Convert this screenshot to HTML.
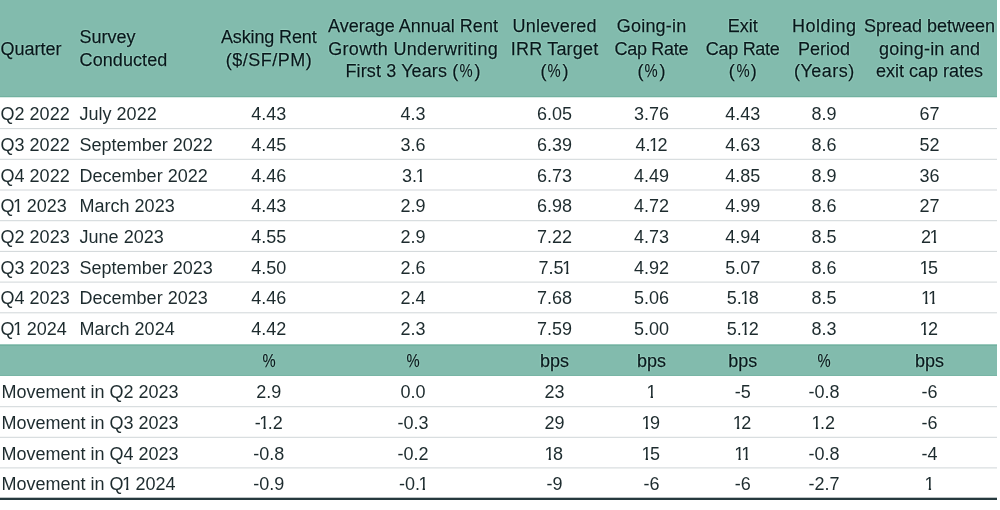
<!DOCTYPE html>
<html><head><meta charset="utf-8"><title>Survey table</title>
<style>
html,body{margin:0;padding:0;background:#fff;}
body{width:1000px;height:510px;position:relative;overflow:hidden;font-family:"Liberation Sans",sans-serif;font-size:18px;color:#1d2b2e;}
.b{position:absolute;left:0;width:997px;}
.t{position:absolute;white-space:nowrap;line-height:20px;}
.h{color:#07171b;-webkit-text-stroke:0.25px #07171b;text-shadow:0 0 1.5px rgba(190,240,222,1),0 0 1.5px rgba(190,240,222,0.8);}
.o{display:inline-block;margin:0 -1.5px;clip-path:polygon(0 0,100% 0,100% 13.6px,6.5px 13.6px,6.5px 100%,4.1px 100%,4.1px 13.6px,0 13.6px);}
.p{display:inline-block;transform:scaleX(0.82);}
#w{position:absolute;left:0;top:0;width:1000px;height:510px;will-change:transform;}
</style></head><body>
<div class="b" style="top:0px;height:96px;background:#82bbad;"></div>
<div class="b" style="top:96px;height:1px;background:#72b1a0;"></div>
<div class="b" style="top:97px;height:1px;background:#daebe6;"></div>
<div class="b" style="top:344px;height:1px;background:#9bc9bd;"></div>
<div class="b" style="top:345px;height:1px;background:#72b1a0;"></div>
<div class="b" style="top:346px;height:29px;background:#82bbad;"></div>
<div class="b" style="top:375px;height:1px;background:#78b5a5;"></div>
<div class="b" style="top:128px;height:1px;background:#d5dadc;"></div>
<div class="b" style="top:129px;height:1px;background:#fafbfb;"></div>
<div class="b" style="top:158px;height:1px;background:#f6f7f7;"></div>
<div class="b" style="top:159px;height:1px;background:#d9dee0;"></div>
<div class="b" style="top:189px;height:1px;background:#e8eaec;"></div>
<div class="b" style="top:190px;height:1px;background:#e8eaec;"></div>
<div class="b" style="top:220px;height:1px;background:#d9dee0;"></div>
<div class="b" style="top:221px;height:1px;background:#f6f7f7;"></div>
<div class="b" style="top:250px;height:1px;background:#fafbfb;"></div>
<div class="b" style="top:251px;height:1px;background:#d5dadc;"></div>
<div class="b" style="top:281px;height:1px;background:#ecefef;"></div>
<div class="b" style="top:282px;height:1px;background:#e3e6e8;"></div>
<div class="b" style="top:312px;height:1px;background:#dee2e4;"></div>
<div class="b" style="top:313px;height:1px;background:#f1f3f3;"></div>
<div class="b" style="top:406px;height:1px;background:#d9dee0;"></div>
<div class="b" style="top:407px;height:1px;background:#f6f7f7;"></div>
<div class="b" style="top:436px;height:1px;background:#f6f7f7;"></div>
<div class="b" style="top:437px;height:1px;background:#d9dee0;"></div>
<div class="b" style="top:467px;height:1px;background:#e3e6e8;"></div>
<div class="b" style="top:468px;height:1px;background:#ecefef;"></div>
<div class="b" style="top:497px;height:1px;background:#bec4c5;"></div>
<div class="b" style="top:498px;height:2px;background:#26393e;"></div>
<div id="w">
<div class="t h" style="left:0.60px;top:38.76px;">Quarter</div>
<div class="t h" style="left:79.60px;top:27.46px;">Survey</div>
<div class="t h" style="left:79.60px;top:50.06px;"><span style="letter-spacing:0.08px;margin-left:0px">Conducted</span></div>
<div class="t h" style="left:168.80px;width:200px;text-align:center;top:27.46px;"><span style="letter-spacing:-0.13px;margin-left:-0.13px">Asking Rent</span></div>
<div class="t h" style="left:168.80px;width:200px;text-align:center;top:50.06px;"><span style="letter-spacing:0.5px;margin-left:0.5px">($/SF/PM)</span></div>
<div class="t h" style="left:313.00px;width:200px;text-align:center;top:16.16px;">Average Annual Rent</div>
<div class="t h" style="left:313.00px;width:200px;text-align:center;top:38.76px;"><span style="letter-spacing:0.3px;margin-left:0.3px">Growth Underwriting</span></div>
<div class="t h" style="left:313.00px;width:200px;text-align:center;top:61.36px;"><span style="letter-spacing:0.12px;margin-left:0.12px">First 3 Years (<span class="p">%</span>)</span></div>
<div class="t h" style="left:454.50px;width:200px;text-align:center;top:16.16px;"><span style="letter-spacing:0.22px;margin-left:0.22px">Unlevered</span></div>
<div class="t h" style="left:454.50px;width:200px;text-align:center;top:38.76px;"><span style="letter-spacing:0.19px;margin-left:0.19px">IRR Target</span></div>
<div class="t h" style="left:454.50px;width:200px;text-align:center;top:61.36px;">(<span class="p">%</span>)</div>
<div class="t h" style="left:551.50px;width:200px;text-align:center;top:16.16px;"><span style="letter-spacing:0.2px;margin-left:0.2px">Going-in</span></div>
<div class="t h" style="left:551.50px;width:200px;text-align:center;top:38.76px;"><span style="letter-spacing:-0.3px;margin-left:-0.3px">Cap Rate</span></div>
<div class="t h" style="left:551.50px;width:200px;text-align:center;top:61.36px;">(<span class="p">%</span>)</div>
<div class="t h" style="left:642.80px;width:200px;text-align:center;top:16.16px;">Exit</div>
<div class="t h" style="left:642.80px;width:200px;text-align:center;top:38.76px;"><span style="letter-spacing:-0.3px;margin-left:-0.3px">Cap Rate</span></div>
<div class="t h" style="left:642.80px;width:200px;text-align:center;top:61.36px;">(<span class="p">%</span>)</div>
<div class="t h" style="left:724.10px;width:200px;text-align:center;top:16.16px;"><span style="letter-spacing:0.5px;margin-left:0.5px">Holding</span></div>
<div class="t h" style="left:724.10px;width:200px;text-align:center;top:38.76px;">Period</div>
<div class="t h" style="left:724.10px;width:200px;text-align:center;top:61.36px;"><span style="letter-spacing:0.5px;margin-left:0.5px">(Years)</span></div>
<div class="t h" style="left:829.60px;width:200px;text-align:center;top:16.16px;">Spread between</div>
<div class="t h" style="left:829.60px;width:200px;text-align:center;top:38.76px;"><span style="letter-spacing:0.18px;margin-left:0.18px">going-in and</span></div>
<div class="t h" style="left:829.60px;width:200px;text-align:center;top:61.36px;">exit cap rates</div>
<div class="t" style="left:0.60px;top:104.06px;">Q2 2022</div>
<div class="t" style="left:79.60px;top:104.06px;">July 2022</div>
<div class="t" style="left:168.80px;width:200px;text-align:center;top:104.06px;">4.43</div>
<div class="t" style="left:313.00px;width:200px;text-align:center;top:104.06px;">4.3</div>
<div class="t" style="left:454.50px;width:200px;text-align:center;top:104.06px;">6.05</div>
<div class="t" style="left:551.50px;width:200px;text-align:center;top:104.06px;">3.76</div>
<div class="t" style="left:642.80px;width:200px;text-align:center;top:104.06px;">4.43</div>
<div class="t" style="left:724.10px;width:200px;text-align:center;top:104.06px;">8.9</div>
<div class="t" style="left:829.60px;width:200px;text-align:center;top:104.06px;">67</div>
<div class="t" style="left:0.60px;top:134.79px;">Q3 2022</div>
<div class="t" style="left:79.60px;top:134.79px;">September 2022</div>
<div class="t" style="left:168.80px;width:200px;text-align:center;top:134.79px;">4.45</div>
<div class="t" style="left:313.00px;width:200px;text-align:center;top:134.79px;">3.6</div>
<div class="t" style="left:454.50px;width:200px;text-align:center;top:134.79px;">6.39</div>
<div class="t" style="left:551.50px;width:200px;text-align:center;top:134.79px;">4.<span class="o">1</span>2</div>
<div class="t" style="left:642.80px;width:200px;text-align:center;top:134.79px;">4.63</div>
<div class="t" style="left:724.10px;width:200px;text-align:center;top:134.79px;">8.6</div>
<div class="t" style="left:829.60px;width:200px;text-align:center;top:134.79px;">52</div>
<div class="t" style="left:0.60px;top:165.52px;">Q4 2022</div>
<div class="t" style="left:79.60px;top:165.52px;">December 2022</div>
<div class="t" style="left:168.80px;width:200px;text-align:center;top:165.52px;">4.46</div>
<div class="t" style="left:313.00px;width:200px;text-align:center;top:165.52px;">3.<span class="o">1</span></div>
<div class="t" style="left:454.50px;width:200px;text-align:center;top:165.52px;">6.73</div>
<div class="t" style="left:551.50px;width:200px;text-align:center;top:165.52px;">4.49</div>
<div class="t" style="left:642.80px;width:200px;text-align:center;top:165.52px;">4.85</div>
<div class="t" style="left:724.10px;width:200px;text-align:center;top:165.52px;">8.9</div>
<div class="t" style="left:829.60px;width:200px;text-align:center;top:165.52px;">36</div>
<div class="t" style="left:0.60px;top:196.25px;">Q<span class="o">1</span> 2023</div>
<div class="t" style="left:79.60px;top:196.25px;">March 2023</div>
<div class="t" style="left:168.80px;width:200px;text-align:center;top:196.25px;">4.43</div>
<div class="t" style="left:313.00px;width:200px;text-align:center;top:196.25px;">2.9</div>
<div class="t" style="left:454.50px;width:200px;text-align:center;top:196.25px;">6.98</div>
<div class="t" style="left:551.50px;width:200px;text-align:center;top:196.25px;">4.72</div>
<div class="t" style="left:642.80px;width:200px;text-align:center;top:196.25px;">4.99</div>
<div class="t" style="left:724.10px;width:200px;text-align:center;top:196.25px;">8.6</div>
<div class="t" style="left:829.60px;width:200px;text-align:center;top:196.25px;">27</div>
<div class="t" style="left:0.60px;top:226.98px;">Q2 2023</div>
<div class="t" style="left:79.60px;top:226.98px;">June 2023</div>
<div class="t" style="left:168.80px;width:200px;text-align:center;top:226.98px;">4.55</div>
<div class="t" style="left:313.00px;width:200px;text-align:center;top:226.98px;">2.9</div>
<div class="t" style="left:454.50px;width:200px;text-align:center;top:226.98px;">7.22</div>
<div class="t" style="left:551.50px;width:200px;text-align:center;top:226.98px;">4.73</div>
<div class="t" style="left:642.80px;width:200px;text-align:center;top:226.98px;">4.94</div>
<div class="t" style="left:724.10px;width:200px;text-align:center;top:226.98px;">8.5</div>
<div class="t" style="left:829.60px;width:200px;text-align:center;top:226.98px;">2<span class="o">1</span></div>
<div class="t" style="left:0.60px;top:257.71px;">Q3 2023</div>
<div class="t" style="left:79.60px;top:257.71px;">September 2023</div>
<div class="t" style="left:168.80px;width:200px;text-align:center;top:257.71px;">4.50</div>
<div class="t" style="left:313.00px;width:200px;text-align:center;top:257.71px;">2.6</div>
<div class="t" style="left:454.50px;width:200px;text-align:center;top:257.71px;">7.5<span class="o">1</span></div>
<div class="t" style="left:551.50px;width:200px;text-align:center;top:257.71px;">4.92</div>
<div class="t" style="left:642.80px;width:200px;text-align:center;top:257.71px;">5.07</div>
<div class="t" style="left:724.10px;width:200px;text-align:center;top:257.71px;">8.6</div>
<div class="t" style="left:829.60px;width:200px;text-align:center;top:257.71px;"><span class="o">1</span>5</div>
<div class="t" style="left:0.60px;top:288.44px;">Q4 2023</div>
<div class="t" style="left:79.60px;top:288.44px;">December 2023</div>
<div class="t" style="left:168.80px;width:200px;text-align:center;top:288.44px;">4.46</div>
<div class="t" style="left:313.00px;width:200px;text-align:center;top:288.44px;">2.4</div>
<div class="t" style="left:454.50px;width:200px;text-align:center;top:288.44px;">7.68</div>
<div class="t" style="left:551.50px;width:200px;text-align:center;top:288.44px;">5.06</div>
<div class="t" style="left:642.80px;width:200px;text-align:center;top:288.44px;">5.<span class="o">1</span>8</div>
<div class="t" style="left:724.10px;width:200px;text-align:center;top:288.44px;">8.5</div>
<div class="t" style="left:829.60px;width:200px;text-align:center;top:288.44px;"><span class="o">1</span><span class="o">1</span></div>
<div class="t" style="left:0.60px;top:319.17px;">Q<span class="o">1</span> 2024</div>
<div class="t" style="left:79.60px;top:319.17px;">March 2024</div>
<div class="t" style="left:168.80px;width:200px;text-align:center;top:319.17px;">4.42</div>
<div class="t" style="left:313.00px;width:200px;text-align:center;top:319.17px;">2.3</div>
<div class="t" style="left:454.50px;width:200px;text-align:center;top:319.17px;">7.59</div>
<div class="t" style="left:551.50px;width:200px;text-align:center;top:319.17px;">5.00</div>
<div class="t" style="left:642.80px;width:200px;text-align:center;top:319.17px;">5.<span class="o">1</span>2</div>
<div class="t" style="left:724.10px;width:200px;text-align:center;top:319.17px;">8.3</div>
<div class="t" style="left:829.60px;width:200px;text-align:center;top:319.17px;"><span class="o">1</span>2</div>
<div class="t h" style="left:168.80px;width:200px;text-align:center;top:350.96px;"><span class="p">%</span></div>
<div class="t h" style="left:313.00px;width:200px;text-align:center;top:350.96px;"><span class="p">%</span></div>
<div class="t h" style="left:454.50px;width:200px;text-align:center;top:350.96px;">bps</div>
<div class="t h" style="left:551.50px;width:200px;text-align:center;top:350.96px;">bps</div>
<div class="t h" style="left:642.80px;width:200px;text-align:center;top:350.96px;">bps</div>
<div class="t h" style="left:724.10px;width:200px;text-align:center;top:350.96px;"><span class="p">%</span></div>
<div class="t h" style="left:829.60px;width:200px;text-align:center;top:350.96px;">bps</div>
<div class="t" style="left:1.40px;top:382.36px;">Movement in Q2 2023</div>
<div class="t" style="left:168.80px;width:200px;text-align:center;top:382.36px;">2.9</div>
<div class="t" style="left:313.00px;width:200px;text-align:center;top:382.36px;">0.0</div>
<div class="t" style="left:454.50px;width:200px;text-align:center;top:382.36px;">23</div>
<div class="t" style="left:551.50px;width:200px;text-align:center;top:382.36px;"><span class="o">1</span></div>
<div class="t" style="left:642.80px;width:200px;text-align:center;top:382.36px;">-5</div>
<div class="t" style="left:724.10px;width:200px;text-align:center;top:382.36px;">-0.8</div>
<div class="t" style="left:829.60px;width:200px;text-align:center;top:382.36px;">-6</div>
<div class="t" style="left:1.40px;top:413.06px;">Movement in Q3 2023</div>
<div class="t" style="left:168.80px;width:200px;text-align:center;top:413.06px;">-<span class="o">1</span>.2</div>
<div class="t" style="left:313.00px;width:200px;text-align:center;top:413.06px;">-0.3</div>
<div class="t" style="left:454.50px;width:200px;text-align:center;top:413.06px;">29</div>
<div class="t" style="left:551.50px;width:200px;text-align:center;top:413.06px;"><span class="o">1</span>9</div>
<div class="t" style="left:642.80px;width:200px;text-align:center;top:413.06px;"><span class="o">1</span>2</div>
<div class="t" style="left:724.10px;width:200px;text-align:center;top:413.06px;"><span class="o">1</span>.2</div>
<div class="t" style="left:829.60px;width:200px;text-align:center;top:413.06px;">-6</div>
<div class="t" style="left:1.40px;top:443.76px;">Movement in Q4 2023</div>
<div class="t" style="left:168.80px;width:200px;text-align:center;top:443.76px;">-0.8</div>
<div class="t" style="left:313.00px;width:200px;text-align:center;top:443.76px;">-0.2</div>
<div class="t" style="left:454.50px;width:200px;text-align:center;top:443.76px;"><span class="o">1</span>8</div>
<div class="t" style="left:551.50px;width:200px;text-align:center;top:443.76px;"><span class="o">1</span>5</div>
<div class="t" style="left:642.80px;width:200px;text-align:center;top:443.76px;"><span class="o">1</span><span class="o">1</span></div>
<div class="t" style="left:724.10px;width:200px;text-align:center;top:443.76px;">-0.8</div>
<div class="t" style="left:829.60px;width:200px;text-align:center;top:443.76px;">-4</div>
<div class="t" style="left:1.40px;top:474.46px;">Movement in Q<span class="o">1</span> 2024</div>
<div class="t" style="left:168.80px;width:200px;text-align:center;top:474.46px;">-0.9</div>
<div class="t" style="left:313.00px;width:200px;text-align:center;top:474.46px;">-0.<span class="o">1</span></div>
<div class="t" style="left:454.50px;width:200px;text-align:center;top:474.46px;">-9</div>
<div class="t" style="left:551.50px;width:200px;text-align:center;top:474.46px;">-6</div>
<div class="t" style="left:642.80px;width:200px;text-align:center;top:474.46px;">-6</div>
<div class="t" style="left:724.10px;width:200px;text-align:center;top:474.46px;">-2.7</div>
<div class="t" style="left:829.60px;width:200px;text-align:center;top:474.46px;"><span class="o">1</span></div>
</div>
</body></html>
